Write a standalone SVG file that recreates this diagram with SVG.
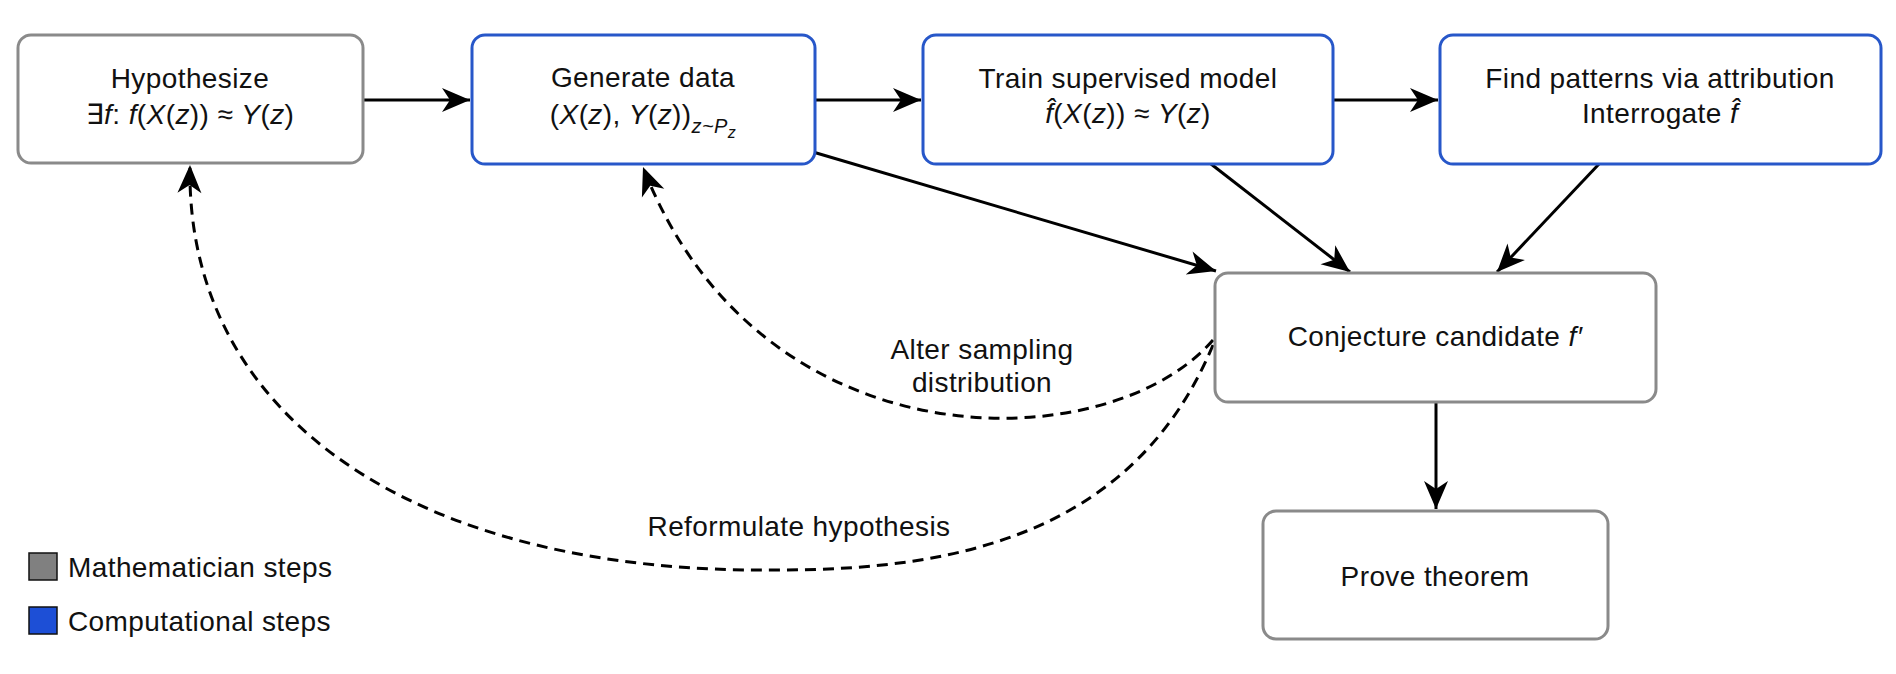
<svg xmlns="http://www.w3.org/2000/svg" width="1896" height="674" viewBox="0 0 1896 674">
<style>
  text { font-family: "Liberation Sans", Arial, sans-serif; font-size: 28px; fill: #111; letter-spacing: 0.4px; }
  .c { text-anchor: middle; }
  .i { font-style: italic; }
  .math { fill: #fff; stroke: #8a8a8a; stroke-width: 3; }
  .comp { fill: #fff; stroke: #2757c9; stroke-width: 3; }
  .edge { fill: none; stroke: #000; stroke-width: 3; marker-end: url(#arr); }
  .dash { stroke-dasharray: 11 7; }
</style>
<defs>
  <marker id="arr" markerUnits="userSpaceOnUse" markerWidth="32" markerHeight="28" refX="28" refY="12" orient="auto" overflow="visible">
    <path d="M0,0 L28,12 L0,24 L8,12 Z" fill="#000"/>
  </marker>
</defs>

<g id="connectors">
  <path class="edge" d="M363,100 L470,100"/>
  <path class="edge" d="M815,100 L921,100"/>
  <path class="edge" d="M1333,100 L1438,100"/>
  <path class="edge" d="M813,152 L1216,271"/>
  <path class="edge" d="M1211,164 L1350,272"/>
  <path class="edge" d="M1599,164 L1497,272"/>
  <path class="edge" d="M1436,402 L1436,509"/>
  <path class="edge dash" d="M1213,340 C1110,460 760,470 643,167"/>
  <path class="edge dash" d="M1213,345 C1135,532 960,570 780,570 C420,575 185,420 190,165"/>
  <text class="c" x="982" y="359">Alter sampling</text>
  <text class="c" x="982" y="392">distribution</text>
  <text class="c" x="799" y="536">Reformulate hypothesis</text>
</g>

<g id="hypothesize">
  <rect class="math" x="18" y="35" width="345" height="128" rx="13"/>
  <text class="c" x="190" y="88">Hypothesize</text>
  <text class="c" x="190" y="124">∃<tspan class="i">f</tspan>: <tspan class="i">f</tspan>(<tspan class="i">X</tspan>(<tspan class="i">z</tspan>)) ≈ <tspan class="i">Y</tspan>(<tspan class="i">z</tspan>)</text>
</g>

<g id="generate">
  <rect class="comp" x="472" y="35" width="343" height="129" rx="13"/>
  <text class="c" x="643" y="87">Generate data</text>
  <text class="c" x="643" y="124">(<tspan class="i">X</tspan>(<tspan class="i">z</tspan>), <tspan class="i">Y</tspan>(<tspan class="i">z</tspan>))<tspan class="i" font-size="20" dy="9">z~P</tspan><tspan class="i" font-size="16" dy="5">z</tspan></text>
</g>

<g id="train">
  <rect class="comp" x="923" y="35" width="410" height="129" rx="13"/>
  <text class="c" x="1128" y="88">Train supervised model</text>
  <text class="c" x="1128" y="123"><tspan class="i">f̂</tspan>(<tspan class="i">X</tspan>(<tspan class="i">z</tspan>)) ≈ <tspan class="i">Y</tspan>(<tspan class="i">z</tspan>)</text>
</g>

<g id="find">
  <rect class="comp" x="1440" y="35" width="441" height="129" rx="13"/>
  <text class="c" x="1660" y="88">Find patterns via attribution</text>
  <text class="c" x="1660" y="123">Interrogate <tspan class="i">f̂</tspan></text>
</g>

<g id="conjecture">
  <rect class="math" x="1215" y="273" width="441" height="129" rx="13"/>
  <text class="c" x="1435" y="346">Conjecture candidate <tspan class="i">f′</tspan></text>
</g>

<g id="prove">
  <rect class="math" x="1263" y="511" width="345" height="128" rx="13"/>
  <text class="c" x="1435" y="586">Prove theorem</text>
</g>

<g id="legend">
  <rect x="29" y="553" width="28" height="27" fill="#808080" stroke="#111" stroke-width="1.5"/>
  <text x="68" y="577">Mathematician steps</text>
  <rect x="29" y="607" width="28" height="27" fill="#1d4fd6" stroke="#111" stroke-width="1.5"/>
  <text x="68" y="631">Computational steps</text>
</g>
</svg>
